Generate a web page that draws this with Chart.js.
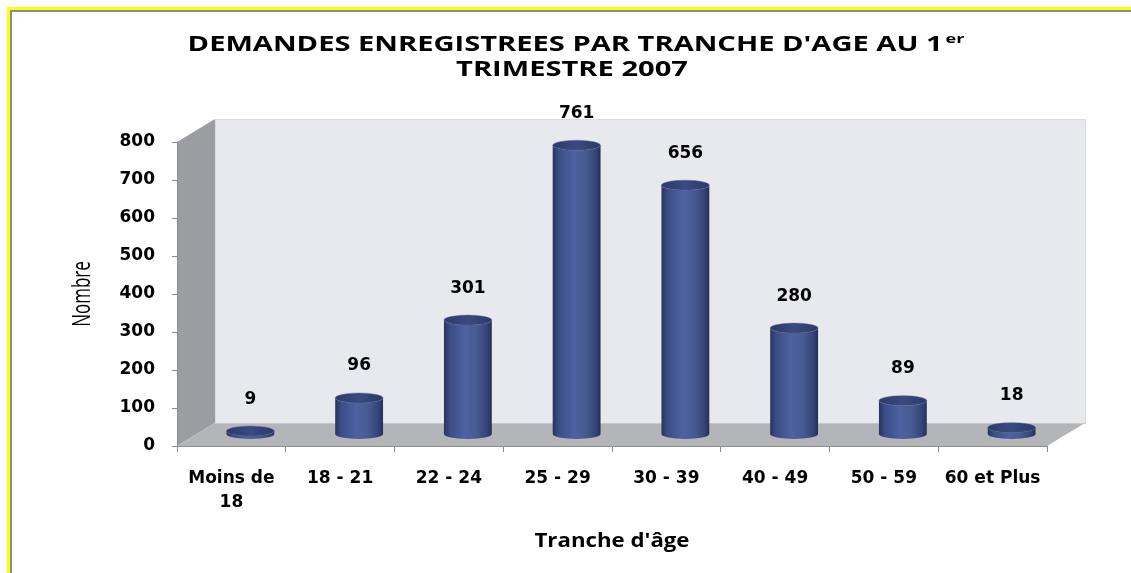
<!DOCTYPE html>
<html>
<head>
<meta charset="utf-8">
<script src="https://cdn.jsdelivr.net/npm/chart.js@4.4.1/dist/chart.umd.min.js"></script>
<style>
  html, body { margin: 0; padding: 0; background: #fff; overflow: hidden; }
  canvas { display: block; }
</style>
</head>
<body>
<canvas id="chart" width="1131" height="573"></canvas>
<script>
// data
const categories = [["Moins de", "18"], "18 - 21", "22 - 24", "25 - 29", "30 - 39", "40 - 49", "50 - 59", "60 et Plus"];
const demandes = [9, 96, 301, 761, 656, 280, 89, 18];
const yTicks = [0, 100, 200, 300, 400, 500, 600, 700, 800];

const titleLine1 = "DEMANDES ENREGISTREES PAR TRANCHE D'AGE AU 1";
const titleSup = "er";
const titleLine2 = "TRIMESTRE 2007";
const yTitle = "Nombre";
const xTitle = "Tranche d'âge";

// 3D depth of the floor / walls
const DX = 38, DY = -23;

const tickFont = { family: "'DejaVu Sans'", size: 17, weight: 'bold', lineHeight: 1.4 };

function stretchedText(ctx, text, x, y, font, sx, align, rotate) {
  ctx.save();
  ctx.font = font;
  ctx.textAlign = align;
  ctx.textBaseline = rotate ? 'middle' : 'alphabetic';
  ctx.translate(x, y);
  ctx.scale(sx, 1);
  if (rotate) ctx.rotate(-Math.PI / 2);
  ctx.fillText(text, 0, 0);
  ctx.restore();
}

// horizontal stretch so a text gets the width seen in the picture
function fitStretch(ctx, text, font, target) {
  ctx.font = font;
  return target / ctx.measureText(text).width;
}

const framePlugin = {
  id: 'frame3d',
  beforeDraw(chart) {
    const { ctx, chartArea: a } = chart;
    const L = a.left, R = a.right, T = a.top, B = a.bottom;
    ctx.save();
    ctx.fillStyle = '#ffffff';
    ctx.fillRect(0, 0, chart.width, chart.height);

    // outer frame (yellow + grey), top and left only
    ctx.fillStyle = '#ffff00';
    ctx.fillRect(7, 7, chart.width - 7, 3);
    ctx.fillRect(7, 7, 3, chart.height - 7);
    ctx.fillStyle = '#8c8c8c';
    ctx.fillRect(10, 10, chart.width - 10, 2);
    ctx.fillRect(10, 10, 2, chart.height - 10);

    // back wall
    ctx.fillStyle = '#e8e9ed';
    ctx.fillRect(L + DX, T + DY, R - L, B - T);
    ctx.strokeStyle = '#dcdcdf';
    ctx.lineWidth = 1;
    ctx.strokeRect(L + DX + 0.5, T + DY + 0.5, R - L, B - T);

    const poly = (pts, color) => {
      ctx.beginPath();
      pts.forEach((p, i) => i ? ctx.lineTo(p[0], p[1]) : ctx.moveTo(p[0], p[1]));
      ctx.closePath();
      ctx.fillStyle = color;
      ctx.fill();
    };
    // left wall
    poly([[L, T], [L + DX, T + DY], [L + DX, B + DY], [L, B]], '#9c9da1');
    // floor
    poly([[L, B], [L + DX, B + DY], [R + DX, B + DY], [R, B]], '#b4b5b9');
    ctx.strokeStyle = '#c8c8cc';
    ctx.beginPath();
    ctx.moveTo(L + DX, B + DY + 0.5);
    ctx.lineTo(R + DX, B + DY + 0.5);
    ctx.stroke();
    ctx.restore();
  },
  afterDraw(chart) {
    const { ctx } = chart;
    ctx.save();
    ctx.fillStyle = '#000';
    // title with superscript
    const f1 = "bold 21px 'Open Sans'";
    const fs = "bold 13px 'Open Sans'";
    const w1 = 755;
    const sx = fitStretch(ctx, titleLine1, f1, w1);
    ctx.font = fs;
    const ws = ctx.measureText(titleSup).width * sx;
    const x0 = 576 - (w1 + ws + 3) / 2;
    stretchedText(ctx, titleLine1, x0, 51, f1, sx, 'left');
    stretchedText(ctx, titleSup, x0 + w1 + 3, 43, fs, sx, 'left');
    stretchedText(ctx, titleLine2, 572, 76, f1, sx, 'center');

    // axis titles
    stretchedText(ctx, yTitle, 83, 294, "17px 'Open Sans'", 1.45, 'center', true);
    const xa = chart.chartArea;
    const fx = "bold 19px 'Open Sans'";
    stretchedText(ctx, xTitle, (xa.left + xa.right) / 2, 547, fx, fitStretch(ctx, xTitle, fx, 155), 'center');
    ctx.restore();
  }
};

const cylinderPlugin = {
  id: 'cylinders',
  afterDatasetsDraw(chart) {
    const { ctx } = chart;
    const meta = chart.getDatasetMeta(0);
    ctx.save();
    meta.data.forEach((bar, i) => {
      const cx = bar.x + DX / 2;
      const top = bar.y + DY / 2;
      const bottom = bar.base + DY / 2;
      const rx = bar.width / 2, ry = 5;

      const g = ctx.createLinearGradient(cx - rx, 0, cx + rx, 0);
      g.addColorStop(0, '#28345c');
      g.addColorStop(0.12, '#3b4c85');
      g.addColorStop(0.45, '#4e62a2');
      g.addColorStop(0.7, '#46598f');
      g.addColorStop(0.9, '#34447a');
      g.addColorStop(1, '#243056');

      ctx.beginPath();
      ctx.moveTo(cx - rx, top);
      ctx.lineTo(cx - rx, bottom);
      ctx.ellipse(cx, bottom, rx, ry, 0, Math.PI, 0, true);
      ctx.lineTo(cx + rx, top);
      ctx.ellipse(cx, top, rx, ry, 0, 0, Math.PI, false);
      ctx.closePath();
      ctx.fillStyle = g;
      ctx.fill();

      const gt = ctx.createLinearGradient(cx - rx, 0, cx + rx, 0);
      gt.addColorStop(0, '#2c3a68');
      gt.addColorStop(0.5, '#3a4a80');
      gt.addColorStop(1, '#2c3a68');
      ctx.beginPath();
      ctx.ellipse(cx, top, rx, ry, 0, 0, Math.PI * 2);
      ctx.fillStyle = gt;
      ctx.fill();
      ctx.strokeStyle = 'rgba(80,100,160,0.6)';
      ctx.lineWidth = 0.8;
      ctx.stroke();

      // value label
      ctx.font = "bold 17px 'DejaVu Sans'";
      ctx.fillStyle = '#000';
      ctx.textAlign = 'center';
      ctx.textBaseline = 'middle';
      ctx.fillText(String(demandes[i]), cx, top - 32);
    });
    ctx.restore();
  }
};

function buildChart() {
  new Chart(document.getElementById('chart'), {
    type: 'bar',
    data: {
      labels: categories,
      datasets: [{
        data: demandes,
        backgroundColor: 'rgba(0,0,0,0)',
        borderWidth: 0,
        barPercentage: 0.44,
        categoryPercentage: 1
      }]
    },
    options: {
      responsive: false,
      animation: false,
      layout: { padding: { top: 142, right: 84, left: 60, bottom: 0 } },
      plugins: { legend: { display: false }, tooltip: { enabled: false } },
      scales: {
        x: {
          grid: { drawOnChartArea: false, tickLength: 6, color: '#8c8c8c', offset: true },
          border: { color: '#8c8c8c' },
          ticks: { font: tickFont, color: '#000', padding: 15, maxRotation: 0, autoSkip: false },
          afterFit(s) { s.height = 127; }
        },
        y: {
          min: 0,
          max: 800,
          afterBuildTicks(s) { s.ticks = yTicks.map(v => ({ value: v })); },
          ticks: { font: { family: "'DejaVu Sans'", size: 17, weight: 'bold' }, color: '#000', padding: 17 },
          grid: { drawOnChartArea: false, tickLength: 5, color: '#8c8c8c' },
          border: { color: '#8c8c8c' },
          afterFit(s) { s.width = 117; }
        }
      }
    },
    plugins: [framePlugin, cylinderPlugin]
  });
}

Promise.all([
  document.fonts.load("bold 21px 'Open Sans'"),
  document.fonts.load("17px 'Open Sans'"),
  document.fonts.load("bold 17px 'DejaVu Sans'")
]).then(buildChart, buildChart);
</script>
</body>
</html>
